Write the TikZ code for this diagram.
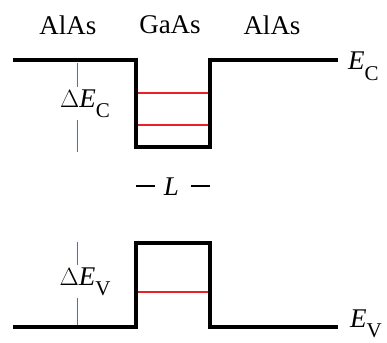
\documentclass[tikz,border=0pt]{standalone}
\usepackage{fontspec}
\setmainfont{Liberation Serif}
\usetikzlibrary{positioning}
\definecolor{level}{HTML}{E8202A}
\definecolor{gap}{HTML}{5A64E0}
\newcommand{\bandE}[1]{\textit{E}\raisebox{-0.4em}{\fontsize{21}{21}\selectfont #1}}
\newcommand{\wdash}{\rule[8.5pt]{19pt}{1.3pt}}

\begin{document}
\begin{tikzpicture}[x=1pt,y=-1pt,
    band/.style={line width=4pt,line join=miter},
    levelline/.style={draw=level,line width=2.6pt},
    gapline/.style={draw=gap,line width=1pt},
    lbl/.style={inner sep=1pt,font=\fontsize{27}{30}\selectfont},
    gaplbl/.style={lbl,fill=white,inner sep=2pt}]
    \useasboundingbox (0,0) rectangle (387,342);
    % materials
    \node[lbl] (left) at (68,25) {AlAs};
    \node[lbl] (mid) at (170,25) {GaAs};
    \node[lbl] (right) at (272,25) {AlAs};
    % conduction band
    \coordinate (cA) at (13,60);
    \coordinate (cB) at (136,60);
    \coordinate (cC) at (136,147);
    \coordinate (cD) at (210,147);
    \coordinate (cE) at (210,60);
    \coordinate (cF) at (338,60);
    \draw[band] (cA)--(cB)--(cC)--(cD)--(cE)--(cF);
    \node[lbl,anchor=base west] (ec) at (347,70) {\bandE{C}};
    \draw[levelline] (138,93)--(208,93);
    \draw[levelline] (138,125)--(208,125);
    \coordinate (dcTop) at (77,63);
    \coordinate (dcBot) at (77,152);
    \draw[gapline] (dcTop)--(dcBot);
    \node[gaplbl,anchor=base] (dec) at (85,107) {$\Delta$\bandE{C}};
    % well width
    \node[lbl,anchor=base] (width) at (173,195) {\wdash\hspace{9pt}\textit{L}\hspace{12pt}\wdash};
    % valence band
    \coordinate (vA) at (13,327);
    \coordinate (vB) at (136,327);
    \coordinate (vC) at (136,243);
    \coordinate (vD) at (210,243);
    \coordinate (vE) at (210,327);
    \coordinate (vF) at (338,327);
    \draw[band] (vA)--(vB)--(vC)--(vD)--(vE)--(vF);
    \node[lbl,inner sep=0pt,anchor=base west] (ev) at (350,327) {\bandE{V}};
    \draw[levelline] (138,292)--(208,292);
    \coordinate (dvTop) at (77,242);
    \coordinate (dvBot) at (77,325);
    \draw[gapline] (dvTop)--(dvBot);
    \node[gaplbl,anchor=base] (dev) at (85,285) {$\Delta$\bandE{V}};
\end{tikzpicture}
\end{document}
